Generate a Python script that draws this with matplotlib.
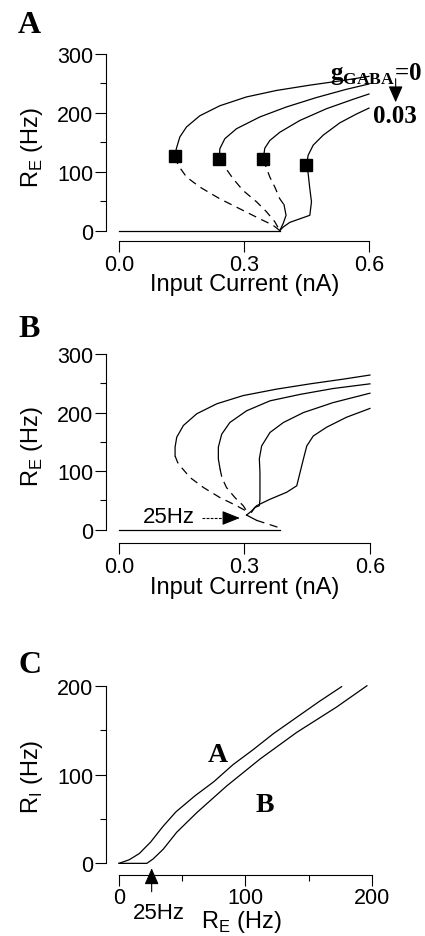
import matplotlib
matplotlib.use("Agg")
import matplotlib.pyplot as plt

plt.rcParams['font.family'] = ['Liberation Sans', 'DejaVu Sans']
plt.rcParams['mathtext.fontset'] = 'custom'
plt.rcParams['mathtext.rm'] = 'Liberation Sans'
plt.rcParams['mathtext.bf'] = 'Liberation Serif:bold'

# ---- panel A: R_E vs input current, g_GABA = 0 ... 0.03 ----
a_up = [
    ([0.134, 0.138, 0.146, 0.162, 0.194, 0.242, 0.306, 0.378, 0.458, 0.538, 0.600],
     [126, 140, 159, 176, 195, 212, 227, 238, 247, 255, 262]),
    ([0.241, 0.242, 0.254, 0.282, 0.338, 0.402, 0.474, 0.546, 0.600],
     [122, 139, 156, 173, 193, 210, 226, 240, 249]),
    ([0.346, 0.350, 0.362, 0.386, 0.434, 0.498, 0.562, 0.600],
     [121, 140, 153, 167, 187, 207, 223, 232]),
    ([0.450, 0.454, 0.466, 0.490, 0.530, 0.570, 0.600],
     [111, 128, 145, 162, 183, 198, 208]),
]
a_unstable = [
    ([0.134, 0.142, 0.162, 0.194, 0.242, 0.290, 0.338, 0.370, 0.386],
     [126, 111, 91, 74, 54, 37, 20, 9, 0]),
    ([0.241, 0.254, 0.274, 0.298, 0.330, 0.354, 0.374, 0.386],
     [122, 108, 88, 68, 49, 32, 15, 0]),
    ([0.346, 0.353, 0.362, 0.374, 0.386, 0.396],
     [121, 108, 91, 74, 54, 44]),
]
a_low = [
    ([0.0, 0.386], [0, 0]),
    ([0.396, 0.401, 0.394, 0.386], [44, 26, 12, 0]),
    ([0.450, 0.454, 0.458, 0.462, 0.458, 0.434, 0.410, 0.394, 0.386],
     [111, 97, 71, 49, 26, 20, 14, 6, 0]),
]
a_knee_x = [0.134, 0.241, 0.346, 0.450]
a_knee_y = [126, 122, 121, 111]

# ---- panel B ----
b_solid = [
    ([0.134, 0.134, 0.138, 0.154, 0.186, 0.234, 0.297, 0.377, 0.457, 0.536, 0.600],
     [126, 141, 158, 178, 198, 215, 229, 240, 249, 257, 264]),
    ([0.2415, 0.2375, 0.2375, 0.2455, 0.265, 0.305, 0.361, 0.433, 0.512, 0.600],
     [104, 121, 141, 163, 183, 203, 220, 231, 241, 249]),
    ([0.317, 0.325, 0.3355, 0.337, 0.337, 0.337, 0.3355, 0.341, 0.361, 0.393, 0.441, 0.512, 0.600],
     [30, 38, 41, 52, 75, 98, 121, 143, 166, 183, 200, 217, 233]),
    ([0.305, 0.317, 0.329, 0.361, 0.401, 0.425, 0.433, 0.441, 0.449, 0.4645, 0.4965, 0.544, 0.600],
     [25, 32, 41, 52, 64, 75, 98, 121, 143, 160, 175, 192, 207]),
    ([0.0, 0.385], [0, 0]),
    ([0.305, 0.329], [25, 16]),
]
b_dashed = [
    ([0.134, 0.140, 0.146, 0.170, 0.202, 0.241, 0.281, 0.309],
     [126, 115, 109, 89, 72, 55, 41, 30]),
    ([0.2415, 0.246, 0.257, 0.277, 0.297, 0.305],
     [104, 89, 72, 55, 41, 32]),
    ([0.329, 0.385], [16, 3]),
]

# ---- panel C: R_I vs R_E ----
c_a_x = [0, 8, 16, 25, 35, 45, 60, 75, 90, 106, 122, 140, 158, 176]
c_a_y = [0, 4, 11, 24, 42, 58, 76, 92, 111, 128, 146, 164, 182, 199]
c_b_x = [0, 22, 27, 35, 45.6, 61.4, 85, 111.5, 140.5, 172, 196]
c_b_y = [0, 0, 5, 16, 35, 57, 87, 117.5, 147.5, 176, 200]

LW = 0.9
DASH = (0, (6.5, 4.5))
TICK_FS = 15.5
LABEL_FS = 17
HEAD = '-|>,head_length=0.5,head_width=0.22'


def style_axis(ax, xb, yb, xticks, xlabels, yticks, xminor, yminor):
    for s in ('top', 'right'):
        ax.spines[s].set_visible(False)
    ax.spines['left'].set_bounds(*yb)
    ax.spines['bottom'].set_bounds(*xb)
    for s in ('left', 'bottom'):
        ax.spines[s].set_linewidth(0.8)
    ax.set_xticks(xticks, xlabels)
    ax.set_yticks(yticks)
    ax.set_xticks(xminor, minor=True)
    ax.set_yticks(yminor, minor=True)
    ax.tick_params(which='major', direction='out', length=8, width=0.8,
                   labelsize=TICK_FS, pad=1)
    ax.tick_params(which='minor', direction='out', length=4, width=0.8)
    ax.patch.set_visible(False)


fig = plt.figure(figsize=(4.25, 9.37), dpi=100)

# panel A
ax1 = fig.add_axes([0.2494, 0.7412, 0.6384, 0.2033])
for x, y in a_up + a_low:
    ax1.plot(x, y, color='black', lw=LW, solid_joinstyle='round')
for x, y in a_unstable:
    ax1.plot(x, y, color='black', lw=LW, linestyle=DASH)
ax1.plot(a_knee_x, a_knee_y, linestyle='none', marker='s', ms=8.5, color='black')
ax1.set_xlim(-0.0312, 0.62)
ax1.set_ylim(-18.5, 305)
style_axis(ax1, (0, 0.6), (0, 300), [0, 0.3, 0.6], ['0.0', '0.3', '0.6'],
           [0, 100, 200, 300], [], [50, 150, 250])
ax1.set_xlabel('Input Current (nA)', fontsize=LABEL_FS)
ax1.set_ylabel(r'R$_{\mathregular{E}}$ (Hz)', fontsize=LABEL_FS)
ax1.xaxis.set_label_coords(0.51, -0.168)
ax1.yaxis.set_label_coords(-0.225, 0.5)
ax1.text(0.506, 258, r'g$_{\mathbf{GABA}}$=0', fontsize=18, fontweight='bold',
         family='Liberation Serif', ha='left', va='baseline', clip_on=False)
ax1.text(0.6096, 185, '0.03', fontsize=18, fontweight='bold',
         family='Liberation Serif', ha='left', va='baseline', clip_on=False)
ax1.annotate('', xy=(0.664, 218), xytext=(0.664, 258), annotation_clip=False,
             arrowprops=dict(arrowstyle=HEAD, mutation_scale=20, color='black',
                             lw=0.8, shrinkA=0, shrinkB=0))

# panel B
ax2 = fig.add_axes([0.2494, 0.4194, 0.6407, 0.2049])
for x, y in b_solid:
    ax2.plot(x, y, color='black', lw=LW, solid_joinstyle='round')
for x, y in b_dashed:
    ax2.plot(x, y, color='black', lw=LW, linestyle=DASH)
ax2.set_xlim(-0.0312, 0.62)
ax2.set_ylim(-22.7, 305)
style_axis(ax2, (0, 0.6), (0, 300), [0, 0.3, 0.6], ['0.0', '0.3', '0.6'],
           [0, 100, 200, 300], [], [50, 150, 250])
ax2.set_xlabel('Input Current (nA)', fontsize=LABEL_FS)
ax2.set_ylabel(r'R$_{\mathregular{E}}$ (Hz)', fontsize=LABEL_FS)
ax2.xaxis.set_label_coords(0.51, -0.172)
ax2.yaxis.set_label_coords(-0.225, 0.51)
ax2.text(0.182, 22.5, '25Hz', fontsize=16, ha='right', va='center')
ax2.plot([0.198, 0.27], [20, 20], color='black', lw=0.8, linestyle=(0, (2.5, 1.2)))
ax2.annotate('', xy=(0.289, 20), xytext=(0.26, 20),
             arrowprops=dict(arrowstyle='-|>,head_length=0.55,head_width=0.22',
                             mutation_scale=20, color='black', lw=0.8,
                             shrinkA=0, shrinkB=0))

# panel C
ax3 = fig.add_axes([0.2494, 0.0654, 0.6407, 0.2064])
ax3.plot(c_a_x, c_a_y, color='black', lw=LW)
ax3.plot(c_b_x, c_b_y, color='black', lw=LW)
ax3.set_xlim(-10.3, 205)
ax3.set_ylim(-12.8, 205)
style_axis(ax3, (0, 200), (0, 200), [0, 100, 200], ['0', '100', '200'],
           [0, 100, 200], [50, 150], [50, 150])
ax3.set_xlabel(r'R$_{\mathregular{E}}$ (Hz)', fontsize=LABEL_FS)
ax3.set_ylabel(r'R$_{\mathregular{I}}$ (Hz)', fontsize=LABEL_FS)
ax3.xaxis.set_label_coords(0.4976, -0.17)
ax3.yaxis.set_label_coords(-0.225, 0.51)
ax3.text(78, 115, 'A', fontsize=20, fontweight='bold', family='Liberation Serif',
         ha='center', va='baseline')
ax3.text(115.4, 59, 'B', fontsize=20, fontweight='bold', family='Liberation Serif',
         ha='center', va='baseline')
ax3.annotate('', xy=(25.8, -5.6), xytext=(25.8, -32), annotation_clip=False,
             arrowprops=dict(arrowstyle=HEAD, mutation_scale=20, color='black',
                             lw=0.8, shrinkA=0, shrinkB=0))
ax3.text(31.2, -43, '25Hz', fontsize=16, ha='center', va='top', clip_on=False)

# panel letters
for label, ypix in (('A', 33), ('B', 337), ('C', 673)):
    fig.text(18 / 425, 1 - ypix / 937, label, fontsize=23, fontweight='bold',
             family='Liberation Serif', ha='left', va='baseline')

fig.savefig('out.png', dpi=100)
